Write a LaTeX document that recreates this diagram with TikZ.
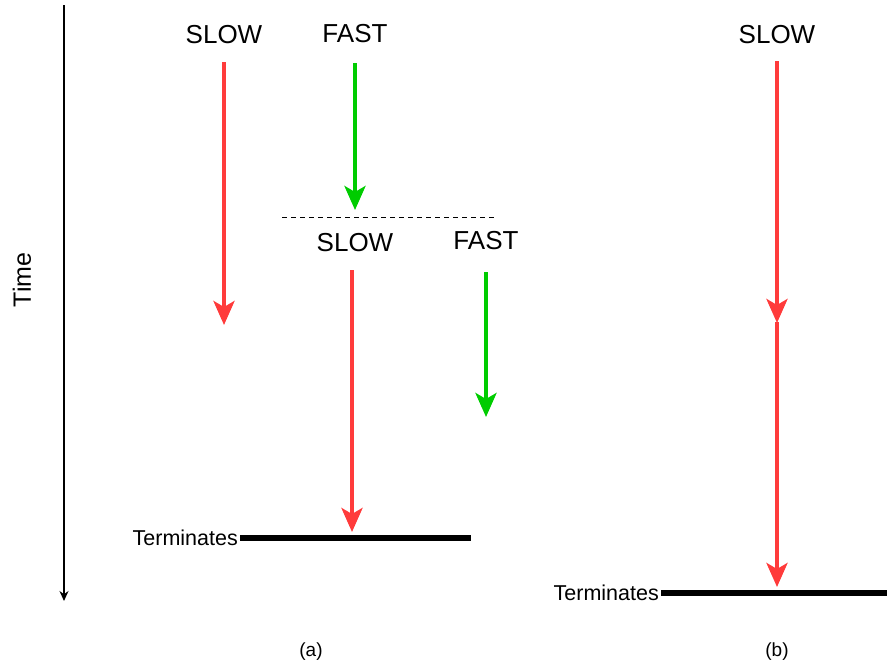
\documentclass[tikz,border=0pt]{standalone}
\usepackage{fontspec}
\setmainfont{Liberation Sans}
\usetikzlibrary{arrows.meta}
\definecolor{slowred}{RGB}{255,59,59}
\definecolor{fastgreen}{RGB}{0,204,0}
\tikzset{
  slowarrow/.style={draw=slowred, line width=4pt, -{Stealth[length=24pt,width=21pt,inset=6pt]}},
  fastarrow/.style={draw=fastgreen, line width=4pt, -{Stealth[length=24pt,width=21pt,inset=6pt]}},
  speed/.style={font=\fontsize{26}{30}\selectfont, anchor=base, inner sep=0pt},
  endlabel/.style={font=\fontsize{21.5}{25}\selectfont, anchor=base east, inner sep=2pt},
  endbar/.style={line width=6pt},
  caption/.style={font=\fontsize{19}{23}\selectfont}
}
\begin{document}
\begin{tikzpicture}[x=1pt,y=-1pt]
     \useasboundingbox (0,0) rectangle (887,667);

      % time axis
      \coordinate (ttop) at (64,5);
      \coordinate (tbot) at (64,601);
      \draw[line width=1.2pt, -{Stealth[length=10pt,width=9pt]}] (ttop) -- (tbot);
      \node[rotate=90, font=\fontsize{25}{29}\selectfont] (time) at (22,280) {Time};

      % draw labels
      \node[speed] (slowA) at (224,43) {SLOW};
      \node[speed] (fastA) at (355,42) {FAST};
      \node[speed] (slowB) at (355,251) {SLOW};
      \node[speed] (fastB) at (486,249) {FAST};
      \node[speed] (slowC) at (777,43) {SLOW};

      % end points of the runs
      \coordinate (slowAtop) at (224,62);
      \coordinate (slowAend) at (224,325);
      \coordinate (fastAtop) at (355,63);
      \coordinate (fastAend) at (355,210);
      \coordinate (slowBtop) at (352,270);
      \coordinate (slowBend) at (352,532);
      \coordinate (fastBtop) at (486,272);
      \coordinate (fastBend) at (486,417);
      \coordinate (slowCtop) at (777,61);
      \coordinate (slowCmid) at (777,323);
      \coordinate (slowCnext) at (777,322);
      \coordinate (slowCend) at (777,587);

      % draw arrows
      \draw[slowarrow] (slowAtop) -- (slowAend);
      \draw[fastarrow] (fastAtop) -- (fastAend);
      \draw[slowarrow] (slowBtop) -- (slowBend);
      \draw[fastarrow] (fastBtop) -- (fastBend);
      \draw[slowarrow] (slowCtop) -- (slowCmid);
      \draw[slowarrow] (slowCnext) -- (slowCend);

      % split line
      \coordinate (splitL) at (282,217);
      \coordinate (splitR) at (497,217);
      \draw[line width=1pt, dash pattern=on 5pt off 4pt] (splitL) -- (splitR);

      % termination bars
      \coordinate (termAl) at (240,538);
      \coordinate (termAr) at (471,538);
      \draw[endbar] (termAl) -- (termAr);
      \node[endlabel] (termA) at (termAl |- 0,545) {Terminates};

      \coordinate (termBl) at (661,593);
      \coordinate (termBr) at (887,593);
      \draw[endbar] (termBl) -- (termBr);
      \node[endlabel] (termB) at (termBl |- 0,600) {Terminates};

      % captions
      \node[caption] (capA) at (311,652) {(a)};
      \node[caption] (capB) at (777,652) {(b)};

\end{tikzpicture}
\end{document}
